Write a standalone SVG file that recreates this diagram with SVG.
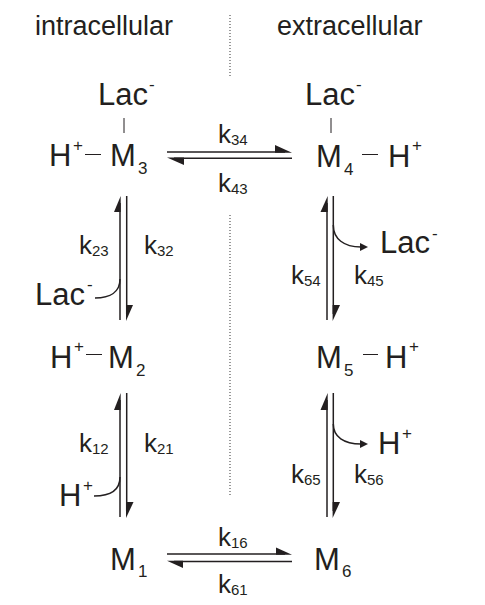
<svg xmlns="http://www.w3.org/2000/svg" width="485" height="605" viewBox="0 0 485 605">
<style>
text{font-family:"Liberation Sans",Arial,sans-serif;fill:#231f20}
.hd{font-size:27px}
.big{font-size:31px}
.bs{font-size:17px}
.k{font-size:26px}
.ks{font-size:15px}
.ln{stroke:#231f20;stroke-width:1.5;fill:none}
.tk{stroke:#231f20;stroke-width:1;fill:none}
.ah{fill:#231f20;stroke:none}
.dot{stroke:#555;stroke-width:1.2;stroke-dasharray:1 2;fill:none}
</style>
<g id="headers">
<text class="hd" x="35" y="35">intracellular</text>
<text class="hd" x="277" y="35">extracellular</text>
<line class="dot" x1="230" y1="15" x2="230" y2="78"/>
<line class="dot" x1="230" y1="215" x2="230" y2="495"/>
</g>
<g id="M3">
<text class="big" x="98" y="105">Lac</text><text class="bs" x="149" y="90">-</text>
<line class="tk" x1="124" y1="118" x2="124" y2="133"/>
<text class="big" x="49" y="166">H</text><text class="bs" x="73" y="151">+</text>
<line class="tk" x1="85" y1="154.5" x2="101" y2="154.5"/>
<text class="big" x="110" y="166">M</text><text class="bs" x="138" y="174">3</text>
</g>
<g id="M4">
<text class="big" x="305" y="105">Lac</text><text class="bs" x="356" y="90">-</text>
<line class="tk" x1="331" y1="118" x2="331" y2="133"/>
<text class="big" x="316" y="167">M</text><text class="bs" x="344" y="175">4</text>
<line class="tk" x1="362" y1="154.5" x2="378" y2="154.5"/>
<text class="big" x="388" y="167">H</text><text class="bs" x="412" y="151">+</text>
</g>
<g id="M2">
<text class="big" x="50" y="368">H</text><text class="bs" x="74" y="352">+</text>
<line class="tk" x1="86" y1="354.5" x2="102" y2="354.5"/>
<text class="big" x="108" y="368">M</text><text class="bs" x="136" y="376">2</text>
</g>
<g id="M5">
<text class="big" x="316" y="368">M</text><text class="bs" x="344" y="376">5</text>
<line class="tk" x1="363" y1="354.5" x2="378" y2="354.5"/>
<text class="big" x="385" y="368">H</text><text class="bs" x="409" y="352">+</text>
</g>
<g id="M1">
<text class="big" x="110" y="570">M</text><text class="bs" x="138" y="577">1</text>
</g>
<g id="M6">
<text class="big" x="314" y="570">M</text><text class="bs" x="342" y="577">6</text>
</g>
<g id="species">
<text class="big" x="35" y="305">Lac</text><text class="bs" x="87" y="290">-</text>
<text class="big" x="380" y="253">Lac</text><text class="bs" x="432" y="239">-</text>
<text class="big" x="59" y="506">H</text><text class="bs" x="83" y="491">+</text>
<text class="big" x="378" y="454">H</text><text class="bs" x="402" y="439">+</text>
</g>
<g id="rate-labels">
<text class="k" x="218" y="143">k</text><text class="ks" x="231" y="145">34</text>
<text class="k" x="218" y="192">k</text><text class="ks" x="231" y="194">43</text>
<text class="k" x="79" y="254">k</text><text class="ks" x="92" y="256">23</text>
<text class="k" x="144" y="254">k</text><text class="ks" x="157" y="256">32</text>
<text class="k" x="291" y="284">k</text><text class="ks" x="304" y="286">54</text>
<text class="k" x="354" y="284">k</text><text class="ks" x="367" y="286">45</text>
<text class="k" x="79" y="452">k</text><text class="ks" x="92" y="454">12</text>
<text class="k" x="144" y="452">k</text><text class="ks" x="157" y="454">21</text>
<text class="k" x="291" y="483">k</text><text class="ks" x="304" y="485">65</text>
<text class="k" x="354" y="483">k</text><text class="ks" x="367" y="485">56</text>
<text class="k" x="218" y="546">k</text><text class="ks" x="231" y="548">16</text>
<text class="k" x="218" y="593">k</text><text class="ks" x="231" y="595">61</text>
</g>
<g id="connectors">
<line class="ln" x1="167" y1="152" x2="285" y2="152"/>
<polygon class="ah" points="292,152.7 275,152.7 275,145"/>
<line class="ln" x1="174" y1="158.3" x2="292" y2="158.3"/>
<polygon class="ah" points="167,157.6 184,157.6 184,165"/>
<line class="ln" x1="120" y1="203" x2="120" y2="320"/>
<polygon class="ah" points="120.7,196 120.7,212 114,212"/>
<line class="ln" x1="126.7" y1="196" x2="126.7" y2="314"/>
<polygon class="ah" points="126,321 126,305 133,305"/>
<path class="ln" d="M95,298 C110,298 120,292 120,279"/>
<line class="ln" x1="327" y1="203" x2="327" y2="320"/>
<polygon class="ah" points="327.7,196 327.7,212 320.5,212"/>
<line class="ln" x1="333.3" y1="196" x2="333.3" y2="314"/>
<polygon class="ah" points="332.6,321 332.6,305 340,305"/>
<path class="ln" d="M333.3,225 C333.3,239 344,247 361,247"/>
<polygon class="ah" points="368,247 360,243 360,251"/>
<line class="ln" x1="120" y1="400" x2="120" y2="517"/>
<polygon class="ah" points="120.7,393 120.7,410 114,410"/>
<line class="ln" x1="126.7" y1="393" x2="126.7" y2="511"/>
<polygon class="ah" points="126,518 126,502 133.5,502"/>
<path class="ln" d="M94,496 C110,496 120,490 120,477"/>
<line class="ln" x1="327" y1="400" x2="327" y2="517"/>
<polygon class="ah" points="327.7,393 327.7,410 320.5,410"/>
<line class="ln" x1="333.3" y1="393" x2="333.3" y2="511"/>
<polygon class="ah" points="332.6,518 332.6,502 340,502"/>
<path class="ln" d="M333.3,424 C333.3,437 344,444 361,444"/>
<polygon class="ah" points="368,444 360,440 360,448"/>
<line class="ln" x1="167" y1="554" x2="285" y2="554"/>
<polygon class="ah" points="292,554.7 276,554.7 276,547.5"/>
<line class="ln" x1="174" y1="561.5" x2="292" y2="561.5"/>
<polygon class="ah" points="167,560.8 183,560.8 183,568"/>
</g>
</svg>
